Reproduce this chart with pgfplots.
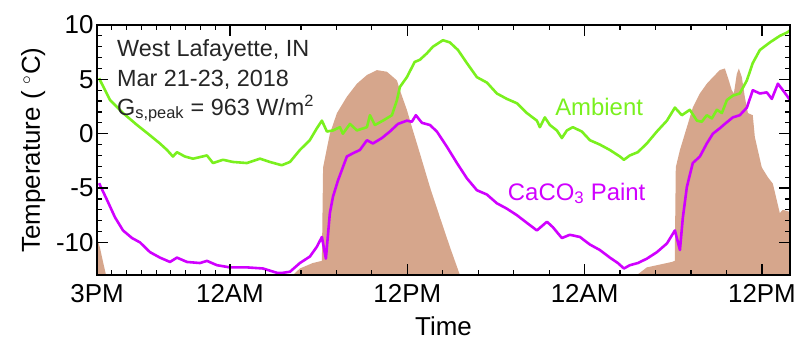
\documentclass[border=0pt]{standalone}
\usepackage{fontspec}
\setmainfont{Liberation Sans}
\usepackage{pgfplots}
\pgfplotsset{compat=1.18}
\definecolor{amb}{RGB}{122,240,30}
\definecolor{paint}{RGB}{208,0,255}
\definecolor{sun}{RGB}{214,166,140}
\begin{document}
\begin{tikzpicture}
\begin{axis}[
  scale only axis, width=693bp, height=250bp,
  xmin=0, xmax=46.9, ymin=-13, ymax=10,
  axis on top,
  axis line style={line width=1.4bp},
  every tick/.style={line width=1.2bp, black},
  major tick length=11bp, minor tick length=5bp,
  xtick={0,9,21,33,45},
  xticklabels={3PM,12AM,12PM,12AM,12PM},
  minor xtick={1,2,3,4,5,6,7,8,11.4,13.8,16.2,18.6,23.4,25.8,28.2,30.6,35.4,37.8,40.2,42.6},
  ytick={-10,-5,0,5,10},
  minor y tick num=4,
  /pgf/number format/assume math mode=true,
  tick label style={font=\fontsize{26}{30}\selectfont},
  xticklabel style={yshift=-6bp},
  xlabel={Time},
  ylabel={Temperature ( $^{\circ}$C)},
  label style={font=\fontsize{26}{30}\selectfont},
  xlabel style={at={(rel axis cs:0.5,0)}, anchor=north, yshift=-38bp},
  ylabel style={at={([xshift=-57bp]rel axis cs:0,0.5)}, anchor=base, rotate=0},
]
% solar irradiance (shaded)
\addplot[fill=sun, draw=none] coordinates {
(0,-13) (0,-9.55) (0.2,-10.5) (0.41,-11.8) (0.61,-13)};
\addplot[fill=sun, draw=none] coordinates {
(13.26,-13) (13.73,-12.4) (14.6,-11.9) (15.22,-11.7) (15.3,-3.1) (15.76,0) (16.24,1.9)
(16.91,3.4) (17.59,4.6) (18.27,5.4) (18.94,5.85) (19.62,5.7) (20.3,4.9) (20.5,4.0)
(20.97,2.2) (21.38,0.3) (21.85,-1.8) (22.53,-4.9) (23.21,-7.7) (23.88,-10.4) (24.56,-13)};
\addplot[fill=sun, draw=none] coordinates {
(36.54,-13) (37.21,-12.3) (38.9,-11.8) (39.1,-11.7) (39.17,-3.1) (39.45,-1.5) (39.92,0.6)
(40.32,2.4) (40.8,3.7) (41.27,4.6) (41.68,5.2) (42.15,5.85) (42.49,6.0) (42.69,5.2)
(42.96,4.0) (43.1,3.7) (43.3,5.5) (43.44,6.0) (43.64,5.2) (43.84,3.4) (44.05,1.9)
(44.38,1.7) (44.52,-0.3) (44.72,-1.5) (44.99,-3.1) (45.4,-4.0) (45.74,-4.6) (46.0,-6.1)
(46.21,-7.3) (46.41,-7.0) (46.9,-7.2) (46.9,-13)};
% ambient
\addplot[amb, line width=2.6bp, line join=round] coordinates {
(0.14,5.1) (0.88,3.1) (1.76,1.9) (2.71,0.8) (3.45,0.0) (4.26,-0.9) (4.74,-1.5) (5.14,-2.1)
(5.41,-1.7) (5.95,-2.1) (6.5,-2.3) (7.44,-2.0) (7.85,-2.7) (8.53,-2.4) (9.2,-2.6) (10.15,-2.7)
(11.03,-2.3) (11.7,-2.6) (12.5,-2.9) (13.06,-2.6) (13.73,-1.5) (14.4,-0.6) (14.88,0.5)
(15.22,1.2) (15.56,0.2) (15.97,0.3) (16.44,0.6) (16.64,0.0) (17.12,0.9) (17.59,0.3)
(18.27,0.6) (18.47,1.7) (18.81,0.8) (19.35,1.2) (19.96,1.7) (20.3,3.1) (20.5,4.3)
(20.97,5.2) (21.5,6.6) (21.85,6.8) (22.33,7.4) (22.73,8.0) (23.41,8.6) (23.88,8.4)
(24.43,7.7) (25.03,6.5) (25.71,5.2) (26.39,4.7) (27.06,3.7) (27.74,3.2) (28.42,2.8)
(29.09,1.9) (29.77,1.2) (29.97,0.6) (30.31,1.5) (30.65,0.8) (31.12,0.3) (31.46,-0.4)
(31.8,0.3) (32.2,0.6) (32.81,0.2) (33.36,-0.6) (34.03,-1.0) (34.71,-1.5) (35.39,-2.1)
(35.66,-2.4) (36.06,-2.0) (36.6,-1.7) (37.21,-0.9) (37.89,0.2) (38.57,1.2) (39.11,2.4)
(39.58,1.7) (40.12,2.2) (40.6,1.2) (40.93,1.1) (41.27,1.7) (41.61,1.4) (41.95,2.2)
(42.29,1.9) (42.63,3.1) (43.03,3.5) (43.5,3.7) (43.98,4.9) (44.38,6.5) (44.86,7.7)
(45.54,8.4) (46.21,9.0) (46.69,9.3) (46.9,9.5)};
% CaCO3 paint
\addplot[paint, line width=2.6bp, line join=round] coordinates {
(0.14,-4.55) (0.68,-6.1) (1.22,-7.7) (1.76,-8.9) (2.37,-9.6) (2.91,-10.0) (3.59,-10.9)
(4.26,-11.4) (4.94,-11.8) (5.41,-11.4) (6.09,-11.8) (6.97,-11.9) (7.44,-11.7) (8.12,-12.1)
(9.0,-12.3) (10.15,-12.3) (11.23,-12.4) (12.18,-12.8) (12.58,-12.8) (13.06,-12.7)
(13.73,-11.9) (14.41,-11.3) (14.88,-10.4) (15.22,-9.5) (15.49,-11.5) (15.76,-7.3)
(15.97,-5.8) (16.31,-4.3) (16.91,-2.1) (17.32,-1.8) (17.79,-1.5) (18.27,-0.6) (18.67,-0.9)
(19.28,-0.4) (19.82,0.2) (20.37,0.9) (20.97,1.2) (21.31,1.1) (21.58,1.7) (21.99,1.0)
(22.53,0.8) (23.0,0.2) (23.68,-1.2) (24.36,-2.7) (25.03,-4.1) (25.71,-5.2) (26.39,-5.6)
(27.06,-6.4) (27.74,-6.9) (28.42,-7.5) (29.09,-8.2) (29.77,-8.9) (30.45,-8.1) (30.85,-8.6)
(31.46,-9.6) (32.0,-9.3) (32.68,-9.5) (33.36,-10.2) (34.03,-10.7) (34.71,-11.4)
(35.25,-11.9) (35.66,-12.4) (36.06,-12.1) (36.6,-11.9) (37.21,-11.5) (37.89,-10.9)
(38.57,-10.1) (39.11,-8.9) (39.45,-10.7) (39.65,-7.7) (39.92,-4.9) (40.32,-2.7)
(40.8,-2.1) (41.27,-0.9) (41.68,0.0) (42.15,0.5) (42.49,0.9) (43.03,1.5) (43.5,1.7)
(43.98,2.4) (44.38,4.0) (44.86,3.7) (45.33,3.8) (45.67,3.2) (46.08,4.6) (46.42,4.0) (46.9,3.1)};
% annotations
\node[anchor=base west, inner sep=0pt, font=\fontsize{23.5}{28}\selectfont, text=black!85]
  at (axis cs:1.35,7.06) {West Lafayette, IN};
\node[anchor=base west, inner sep=0pt, font=\fontsize{23.5}{28}\selectfont, text=black!85]
  at (axis cs:1.35,4.30) {Mar 21-23, 2018};
\node[anchor=base west, inner sep=0pt, font=\fontsize{23.5}{28}\selectfont, text=black!85]
  at (axis cs:1.35,1.72) {G\textsubscript{s,peak} = 963 W/m\textsuperscript{2}};
\node[anchor=base west, inner sep=0pt, font=\fontsize{24}{28}\selectfont, text=amb]
  at (axis cs:31.0,1.72) {Ambient};
\node[anchor=base west, inner sep=0pt, font=\fontsize{24}{28}\selectfont, text=paint]
  at (axis cs:27.8,-6.1) {CaCO\textsubscript{3} Paint};
\coordinate (sw) at (rel axis cs:0,0);
\coordinate (ne) at (rel axis cs:1,1);
\end{axis}
\pgfresetboundingbox
\path[use as bounding box] ([xshift=-97bp,yshift=-68bp]sw) rectangle ([xshift=8bp,yshift=25bp]ne);
\end{tikzpicture}
\end{document}
